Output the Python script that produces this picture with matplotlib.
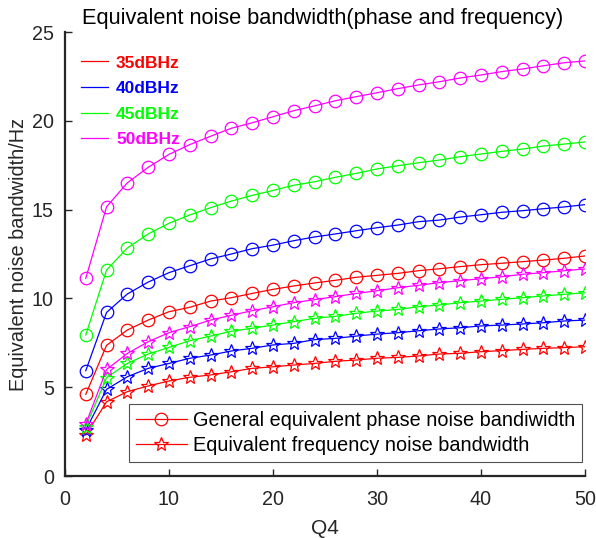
import matplotlib
matplotlib.use("Agg")
import matplotlib.pyplot as plt
from matplotlib.lines import Line2D
import numpy as np

plt.rcParams['font.family'] = ['Liberation Sans', 'DejaVu Sans']

q4 = list(range(2, 51, 2))

phase_35 = [4.60, 7.36, 8.22, 8.78, 9.25, 9.50, 9.85, 10.04, 10.28, 10.51, 10.70, 10.87, 11.02,
            11.19, 11.30, 11.41, 11.56, 11.67, 11.79, 11.90, 11.98, 12.07, 12.16, 12.26, 12.39]
phase_40 = [5.93, 9.21, 10.25, 10.92, 11.45, 11.84, 12.22, 12.50, 12.80, 13.00, 13.25, 13.46, 13.63,
            13.81, 13.98, 14.13, 14.32, 14.41, 14.58, 14.71, 14.85, 14.94, 15.05, 15.15, 15.28]
phase_45 = [7.94, 11.60, 12.84, 13.63, 14.23, 14.70, 15.11, 15.48, 15.80, 16.08, 16.37, 16.57, 16.82,
            17.04, 17.29, 17.47, 17.64, 17.79, 17.98, 18.13, 18.28, 18.41, 18.58, 18.69, 18.81]
phase_50 = [11.13, 15.16, 16.51, 17.38, 18.11, 18.66, 19.13, 19.58, 19.89, 20.23, 20.57, 20.84, 21.13,
            21.36, 21.58, 21.81, 22.02, 22.20, 22.41, 22.58, 22.77, 22.92, 23.10, 23.27, 23.37]

freq_35 = [2.31, 4.18, 4.75, 5.07, 5.35, 5.56, 5.69, 5.87, 6.06, 6.15, 6.25, 6.34, 6.46,
           6.53, 6.63, 6.68, 6.76, 6.87, 6.91, 7.00, 7.06, 7.13, 7.19, 7.23, 7.28]
freq_40 = [2.59, 4.88, 5.59, 6.06, 6.34, 6.63, 6.81, 7.04, 7.19, 7.38, 7.47, 7.68, 7.75,
           7.88, 7.99, 8.07, 8.18, 8.28, 8.35, 8.45, 8.50, 8.56, 8.63, 8.73, 8.78]
freq_45 = [2.78, 5.54, 6.34, 6.87, 7.24, 7.62, 7.88, 8.15, 8.32, 8.50, 8.69, 8.88, 8.99,
           9.16, 9.29, 9.38, 9.53, 9.63, 9.76, 9.85, 9.95, 10.04, 10.14, 10.23, 10.32]
freq_50 = [2.93, 6.00, 6.90, 7.56, 8.07, 8.41, 8.78, 9.05, 9.31, 9.53, 9.76, 9.93, 10.10,
           10.28, 10.43, 10.60, 10.74, 10.89, 11.00, 11.11, 11.22, 11.36, 11.45, 11.56, 11.66]

cn0_labels = ['35dBHz', '40dBHz', '45dBHz', '50dBHz']
colors = ['#ff0000', '#0000ff', '#00ff00', '#ff00ff']
phase_series = [phase_35, phase_40, phase_45, phase_50]
freq_series = [freq_35, freq_40, freq_45, freq_50]
legend2_labels = ['General equivalent phase noise bandiwidth', 'Equivalent frequency noise bandwidth']

fig = plt.figure(figsize=(5.96, 5.38), dpi=100)
ax = fig.add_axes([0.109, 0.1152, 0.8725, 0.8253])

axis_col = '#262626'
phase_handles = []
freq_handles = []
for col, ph, fr in zip(colors, phase_series, freq_series):
    h1, = ax.plot(q4, ph, '-', color=col, lw=0.9, marker='o', ms=9,
                  mfc='none', mec=col, mew=0.9)
    h2, = ax.plot(q4, fr, '-', color=col, lw=0.9, marker='*', ms=10.5,
                  mfc='none', mec=col, mew=0.9)
    phase_handles.append(h1)
    freq_handles.append(h2)

ax.set_xlim(0, 50)
ax.set_ylim(0, 25)
ax.set_xticks([0, 10, 20, 30, 40, 50])
ax.set_yticks([0, 5, 10, 15, 20, 25])
for s in ['top', 'right']:
    ax.spines[s].set_visible(False)
for s in ['left', 'bottom']:
    ax.spines[s].set_color(axis_col)
    ax.spines[s].set_linewidth(1.6)
ax.tick_params(direction='in', length=5, width=1.0, colors=axis_col, labelsize=14.2)
ax.tick_params(axis='x', pad=10)
ax.tick_params(axis='y', pad=8)

ax.set_xlabel('Q4', fontsize=15, color=axis_col, labelpad=7)
ax.set_ylabel('Equivalent noise bandwidth/Hz', fontsize=14.3, color=axis_col, labelpad=3)
fig.text(0.138, 0.965, 'Equivalent noise bandwidth(phase and frequency)', fontsize=15.7,
         color='black', ha='left', va='center')

# top-left legend (line colours)
cn0_handles = [Line2D([], [], color=c, lw=0.9) for c in colors]
leg1 = ax.legend(cn0_handles, cn0_labels, loc='upper left', bbox_to_anchor=(0.018, 0.963),
                 frameon=False, prop={'weight': 'bold', 'size': 12.5}, labelcolor=colors,
                 handlelength=1.55, handletextpad=0.45, labelspacing=0.6, borderaxespad=0)
ax.add_artist(leg1)

leg2 = ax.legend([phase_handles[0], freq_handles[0]], legend2_labels, loc='lower right',
                 bbox_to_anchor=(0.994, 0.0315), fontsize=14.3, frameon=True, fancybox=False,
                 edgecolor='#262626', borderaxespad=0, handlelength=2.55, handletextpad=0.3,
                 labelspacing=0.3, borderpad=0.35)
leg2.get_frame().set_linewidth(0.8)

fig.savefig('out.png', dpi=100)
